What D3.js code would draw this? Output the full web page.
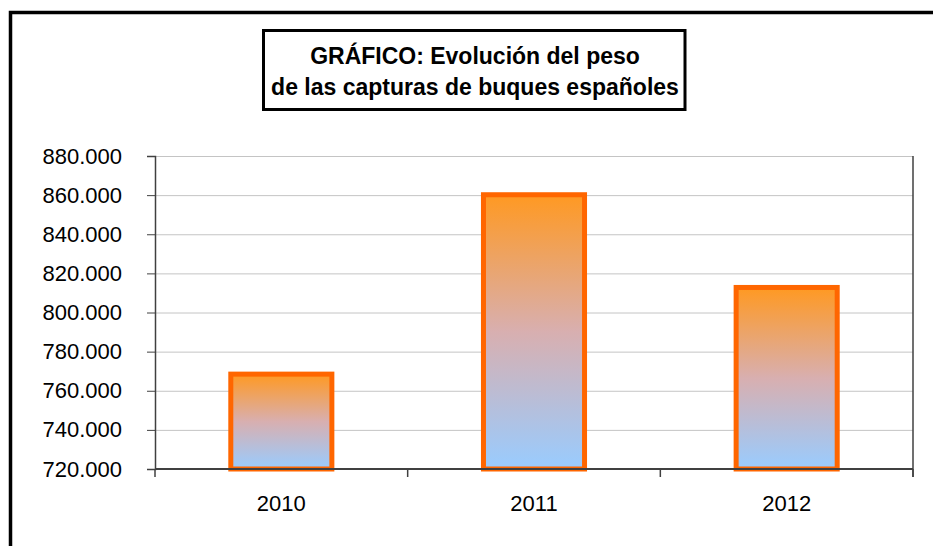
<!DOCTYPE html>
<html>
<head>
<meta charset="utf-8">
<script src="https://cdn.jsdelivr.net/npm/d3@7"></script>
<style>
    body { margin: 0; background: #fff; }
    svg { display: block; font-family: 'Liberation Sans', Arial, sans-serif; }
</style>
</head>
<body>
<svg id="chart" width="933" height="546"></svg>
<script>
    'use strict';
    var years = ['2010', '2011', '2012'];
    var capturas = [768500, 860200, 812800];
    var yTicks = [720000, 740000, 760000, 780000, 800000, 820000, 840000, 860000, 880000];
    var titleLines = ['GRÁFICO: Evolución del peso', 'de las capturas de buques españoles'];

    var W = 933, H = 546,
        plot = {left: 155, right: 913, top: 156, bottom: 469};

    var svg = d3.select('#chart');

    // thousands with a dot, spanish style
    var fmt = function(v) {
        return d3.format(',.0f')(v).replace(/,/g, '.');
    };

    var x = d3.scaleBand().domain(years)
        .range([plot.left, plot.right])
        .paddingInner(0.6).paddingOuter(0.3);
    var xCat = d3.scaleBand().domain(years).range([plot.left, plot.right]);
    var y = d3.scaleLinear().domain([720000, 880000]).range([plot.bottom, plot.top]);

    var defs = svg.append('defs');
    var grad = defs.append('linearGradient').attr('id', 'barGrad')
        .attr('x1', 0).attr('y1', 0).attr('x2', 0).attr('y2', 1);
    grad.append('stop').attr('offset', '0%').attr('stop-color', '#ff9922');
    grad.append('stop').attr('offset', '50%').attr('stop-color', '#d8afb0');
    grad.append('stop').attr('offset', '100%').attr('stop-color', '#99ccff');

    // outer frame (only top & left visible)
    svg.append('path')
        .attr('d', 'M10.5,' + H + 'V12.5H' + W)
        .attr('fill', 'none').attr('stroke', '#000').attr('stroke-width', 3.5);

    // gridlines
    svg.append('g').selectAll('line').data(yTicks).enter().append('line')
        .attr('x1', plot.left).attr('x2', plot.right)
        .attr('y1', function(d) { return y(d) + 0.5; })
        .attr('y2', function(d) { return y(d) + 0.5; })
        .attr('stroke', '#c4c4c4').attr('stroke-width', 1);

    // bars
    svg.append('g').selectAll('rect').data(capturas).enter().append('rect')
        .attr('x', function(d, i) { return x(years[i]); })
        .attr('width', x.bandwidth())
        .attr('y', function(d) { return y(d); })
        .attr('height', function(d) { return plot.bottom - y(d); })
        .attr('fill', 'url(#barGrad)')
        .attr('stroke', '#ff6600').attr('stroke-width', 5);

    // y axis
    var yAxis = svg.append('g')
        .attr('transform', 'translate(' + plot.left + ',0)')
        .call(d3.axisLeft(y).tickValues(yTicks).tickFormat(fmt).tickSize(8).tickPadding(25));
    yAxis.select('.domain').attr('stroke', '#404040').attr('stroke-width', 1.5);
    yAxis.selectAll('.tick line').attr('stroke', '#404040');
    yAxis.selectAll('text').attr('font-size', 22).attr('fill', '#000')
        .attr('font-family', "'Liberation Sans', Arial, sans-serif");

    // right border of plot
    svg.append('line')
        .attr('x1', plot.right).attr('x2', plot.right)
        .attr('y1', plot.top).attr('y2', plot.bottom + 8)
        .attr('stroke', '#404040').attr('stroke-width', 1.5);

    // x axis
    var xg = svg.append('g');
    xg.append('line')
        .attr('x1', plot.left).attr('x2', plot.right)
        .attr('y1', plot.bottom).attr('y2', plot.bottom)
        .attr('stroke', '#404040').attr('stroke-width', 2);
    var bounds = years.map(function(d) { return xCat(d); }).concat([plot.right]);
    xg.selectAll('.xtick').data(bounds).enter().append('line')
        .attr('x1', function(d) { return d; }).attr('x2', function(d) { return d; })
        .attr('y1', plot.bottom).attr('y2', plot.bottom + 8)
        .attr('stroke', '#404040').attr('stroke-width', 1.5);
    xg.selectAll('text').data(years).enter().append('text')
        .attr('x', function(d) { return xCat(d) + xCat.bandwidth() / 2; })
        .attr('y', 511)
        .attr('text-anchor', 'middle')
        .attr('font-size', 22)
        .text(function(d) { return d; });

    // title box
    svg.append('rect')
        .attr('x', 263.5).attr('y', 30.5).attr('width', 421.5).attr('height', 79)
        .attr('fill', '#fff').attr('stroke', '#000').attr('stroke-width', 3);
    svg.append('g').selectAll('text').data(titleLines).enter().append('text')
        .attr('x', 475).attr('y', function(d, i) { return 63.5 + i * 31; })
        .attr('text-anchor', 'middle')
        .attr('font-size', 23).attr('font-weight', 'bold')
        .text(function(d) { return d; });
</script>
</body>
</html>
